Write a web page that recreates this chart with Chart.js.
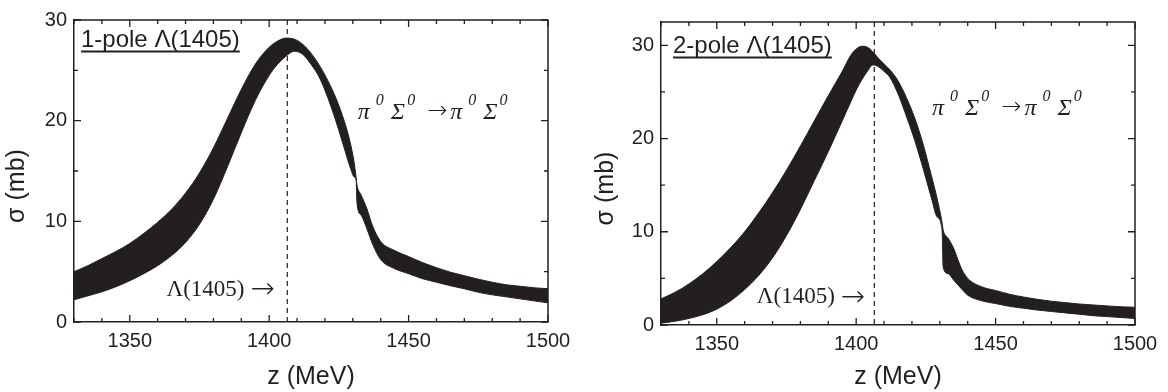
<!DOCTYPE html>
<html>
<head>
<meta charset="utf-8">
<script src="https://cdn.jsdelivr.net/npm/chart.js@4.4.1/dist/chart.umd.min.js"></script>
<style>
  html, body { margin: 0; padding: 0; background: #fff; }
  .wrap { display: flex; width: 1168px; height: 392px; }
  .panel { width: 584px; height: 392px; }
</style>
</head>
<body>
<div class="wrap">
  <div class="panel"><canvas id="onePole" width="584" height="392"></canvas></div>
  <div class="panel"><canvas id="twoPole" width="584" height="392"></canvas></div>
</div>
<script>
// energies z (MeV) and the upper / lower edge of each band, sigma (mb)
const zOne = [1330, 1335, 1340, 1345, 1350, 1355, 1360, 1365, 1370, 1375, 1380, 1385, 1390, 1395,
  1400, 1403, 1406, 1409, 1412, 1415, 1418, 1421, 1424, 1427, 1429, 1430.5, 1431.2, 1431.5,
  1433, 1435, 1437, 1440, 1445, 1450, 1455, 1460, 1465, 1470, 1475, 1480, 1485, 1490, 1495, 1500];
const upperOne = [5.0, 5.6, 6.3, 7.0, 7.8, 8.8, 9.9, 11.2, 12.8, 14.8, 17.3, 20.2, 23.1, 25.6,
  27.3, 27.9, 28.2, 28.1, 27.6, 26.7, 25.5, 24.0, 22.2, 19.9, 17.9, 15.8, 14.3, 13.6,
  12.6, 11.3, 9.6, 8.0, 7.1, 6.5, 5.9, 5.4, 4.95, 4.6, 4.25, 3.95, 3.7, 3.55, 3.4, 3.3];
const lowerOne = [2.2, 2.6, 3.0, 3.5, 4.1, 4.8, 5.6, 6.6, 7.9, 9.7, 12.2, 15.4, 18.8, 22.0,
  24.5, 25.6, 26.4, 26.9, 26.6, 25.6, 24.3, 22.3, 19.9, 17.2, 15.4, 14.4, 14.1, 11.8,
  10.6, 9.3, 7.8, 6.2, 5.3, 4.8, 4.3, 3.95, 3.6, 3.3, 2.95, 2.7, 2.5, 2.3, 2.1, 1.9];

const zTwo = [1330, 1335, 1340, 1345, 1350, 1355, 1360, 1365, 1370, 1375, 1380, 1385, 1390, 1395,
  1398, 1400, 1402, 1404, 1406, 1408, 1410, 1412, 1415, 1418, 1421, 1424, 1427, 1429, 1430.8,
  1431.2, 1433, 1435, 1436.5, 1438, 1440, 1445, 1450, 1455, 1460, 1465, 1470, 1475, 1480,
  1485, 1490, 1495, 1500];
const upperTwo = [2.8, 3.5, 4.4, 5.5, 6.8, 8.3, 10.0, 12.0, 14.2, 16.6, 19.2, 21.9, 24.6, 27.2,
  28.9, 29.6, 29.9, 29.8, 29.3, 28.6, 28.0, 27.4, 26.2, 24.4, 22.2, 19.4, 16.0, 13.6, 11.0,
  10.2, 9.3, 8.2, 7.0, 5.9, 5.0, 4.1, 3.7, 3.3, 3.0, 2.75, 2.55, 2.4, 2.25,
  2.15, 2.05, 1.95, 1.9];
const lowerTwo = [0.2, 0.4, 0.7, 1.1, 1.7, 2.6, 3.8, 5.3, 7.2, 9.6, 12.4, 15.5, 18.6, 21.9,
  23.9, 25.2, 26.3, 27.2, 27.9, 27.7, 27.2, 26.6, 24.8, 22.4, 19.8, 16.8, 13.6, 11.6, 10.2,
  6.2, 5.5, 4.8, 4.3, 3.8, 3.2, 2.6, 2.3, 2.0, 1.8, 1.6, 1.45, 1.3, 1.15,
  1.0, 0.9, 0.8, 0.7];

const xTicks = [1350, 1400, 1450, 1500];
const yTicks = [0, 10, 20, 30];
const poleMass = 1406.5;

const ink = '#231f20';
const sans = '"Liberation Sans", Arial, sans-serif';
const serif = '"Liberation Serif", "Times New Roman", serif';
const arrowFont = '200 24px "DejaVu Sans", sans-serif';

// frame, inward ticks, dashed marker and the in-plot texts
function decor(cfg) {
  return {
    id: 'decor',
    afterDraw(chart) {
      const { ctx, chartArea: a, scales: { x, y } } = chart;
      ctx.save();
      ctx.strokeStyle = ink;
      ctx.lineWidth = 1.5;
      ctx.beginPath();
      ctx.moveTo(a.left, a.top); ctx.lineTo(a.right, a.top); ctx.lineTo(a.right, a.bottom);
      ctx.stroke();

      ctx.lineWidth = 1.3;
      ctx.beginPath();
      for (let v = x.min; v <= x.max; v += 10) {
        const px = x.getPixelForValue(v);
        const len = v % 50 === 0 ? 7 : 4;
        ctx.moveTo(px, a.bottom); ctx.lineTo(px, a.bottom - len);
        ctx.moveTo(px, a.top); ctx.lineTo(px, a.top + len);
      }
      for (let v = 0; v <= y.max; v += 5) {
        const py = y.getPixelForValue(v);
        const len = v % 10 === 0 ? 7 : 4;
        ctx.moveTo(a.left, py); ctx.lineTo(a.left + len, py);
        ctx.moveTo(a.right, py); ctx.lineTo(a.right - len, py);
      }
      ctx.stroke();

      // dashed line at the Lambda(1405) mass
      const mx = x.getPixelForValue(poleMass);
      ctx.lineWidth = 1.2;
      ctx.setLineDash([5, 4]);
      ctx.beginPath();
      ctx.moveTo(mx, a.top); ctx.lineTo(mx, a.bottom);
      ctx.stroke();
      ctx.setLineDash([]);

      ctx.fillStyle = ink;
      // y title
      ctx.save();
      ctx.translate(cfg.yTitleX, (a.top + a.bottom) / 2 + 15);
      ctx.rotate(-Math.PI / 2);
      ctx.font = '25px ' + sans;
      ctx.textAlign = 'center';
      ctx.textBaseline = 'middle';
      ctx.fillText('σ (mb)', 0, 0);
      ctx.restore();

      // panel label, underlined
      ctx.font = '24px ' + sans;
      ctx.textAlign = 'left';
      ctx.textBaseline = 'alphabetic';
      const lx = a.left + cfg.labelDx, ly = a.top + cfg.labelDy;
      ctx.fillText(cfg.label, lx, ly);
      const w = ctx.measureText(cfg.label).width;
      ctx.fillRect(lx, ly + 3.5, w, 2);

      // reaction, written piece by piece: [text, font, gap before, raise]
      const big = 'italic 24px ' + serif, sup = 'italic 16px ' + serif;
      const parts = [['π', big, 0, 0], ['0', sup, 6, 14], ['Σ', big, 7, 0], ['0', sup, 2, 14],
        ['→', arrowFont, 12, 1], ['π', big, 3, 0], ['0', sup, 6, 14],
        ['Σ', big, 7, 0], ['0', sup, 2, 14]];
      let cx = x.getPixelForValue(cfg.reactionAt[0]);
      const ry = y.getPixelForValue(cfg.reactionAt[1]);
      parts.forEach(([t, f, gap, up]) => {
        ctx.font = f;
        cx += gap;
        ctx.fillText(t, cx, ry - up);
        cx += ctx.measureText(t).width;
      });

      // Lambda(1405) arrow label
      const ax = x.getPixelForValue(cfg.arrowAt[0]), ay = y.getPixelForValue(cfg.arrowAt[1]);
      ctx.textAlign = 'right';
      ctx.textBaseline = 'middle';
      ctx.font = '200 29px "DejaVu Sans", sans-serif';
      ctx.fillText('→', ax, ay + 1);
      const aw = ctx.measureText('→').width;
      ctx.font = '23px ' + serif;
      ctx.fillText('Λ(1405)', ax - aw - 6, ay);
      ctx.restore();
    }
  };
}

function makePanel(id, z, upper, lower, cfg) {
  new Chart(document.getElementById(id), {
    type: 'line',
    data: {
      datasets: [
        {
          data: z.map((v, i) => ({ x: v, y: upper[i] })),
          borderColor: ink, borderWidth: 1, pointRadius: 0,
          cubicInterpolationMode: 'monotone', fill: false
        },
        {
          data: z.map((v, i) => ({ x: v, y: lower[i] })),
          borderColor: ink, borderWidth: 1, pointRadius: 0, backgroundColor: ink,
          cubicInterpolationMode: 'monotone', fill: '-1'
        }
      ]
    },
    options: {
      responsive: false,
      animation: false,
      devicePixelRatio: 1,
      layout: { padding: { left: 0, right: cfg.padRight, top: cfg.padTop, bottom: 0 } },
      plugins: { legend: { display: false }, tooltip: { enabled: false } },
      scales: {
        x: {
          type: 'linear', min: 1330, max: 1500,
          afterBuildTicks: s => { s.ticks = xTicks.map(v => ({ value: v })); },
          afterFit: s => { s.height = cfg.xHeight; },
          grid: { display: false, drawTicks: false },
          border: { display: true, color: ink, width: 1.5 },
          ticks: { color: ink, padding: 7, maxRotation: 0, font: { family: sans, size: 20 },
            callback: v => String(v) },
          title: { display: true, text: 'z (MeV)', color: ink, font: { family: sans, size: 25 },
            padding: { top: 0, bottom: cfg.xTitlePad } }
        },
        y: {
          type: 'linear', min: 0, max: cfg.yMax,
          afterBuildTicks: s => { s.ticks = yTicks.map(v => ({ value: v })); },
          afterFit: s => { s.width = cfg.yWidth; },
          grid: { display: false, drawTicks: false },
          border: { display: true, color: ink, width: 1.5 },
          ticks: { color: ink, padding: 7, font: { family: sans, size: 20 }, callback: v => String(v) }
        }
      }
    },
    plugins: [decor(cfg)]
  });
}

makePanel('onePole', zOne, upperOne, lowerOne, {
  yMax: 30, padTop: 20, padRight: 36, yWidth: 74, xHeight: 70, xTitlePad: 0,
  yTitleX: 17, label: '1-pole Λ(1405)', labelDx: 7, labelDy: 27,
  reactionAt: [1431.8, 20.2], arrowAt: [1402, 3.2]
});
makePanel('twoPole', zTwo, upperTwo, lowerTwo, {
  yMax: 32.5, padTop: 22, padRight: 33, yWidth: 77, xHeight: 67, xTitlePad: 0,
  yTitleX: 22, label: '2-pole Λ(1405)', labelDx: 12, labelDy: 31,
  reactionAt: [1427.2, 22.5], arrowAt: [1403.2, 3.0]
});
</script>
</body>
</html>
